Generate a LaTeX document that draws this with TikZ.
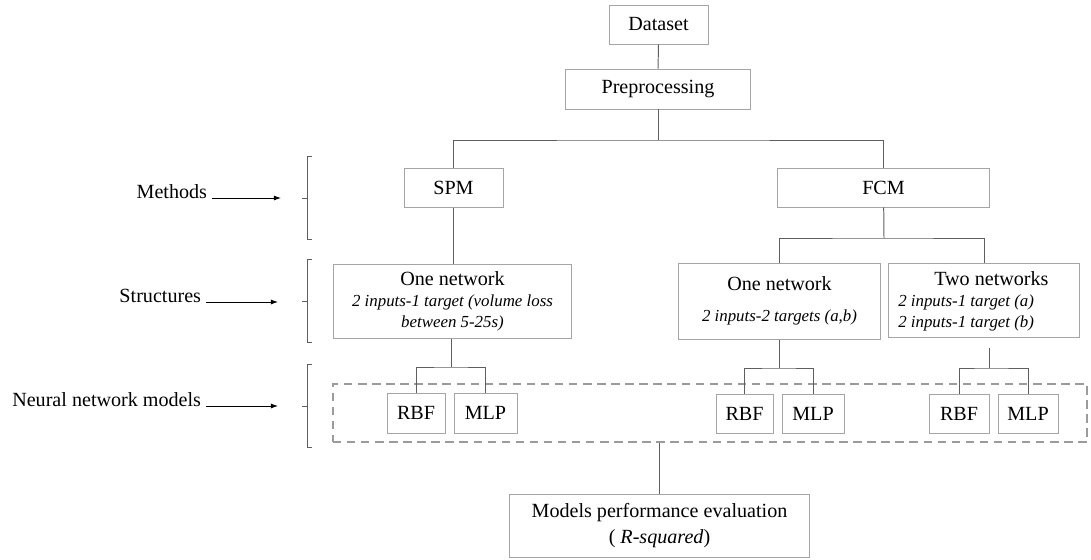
\documentclass[tikz,border=0pt]{standalone}
\usepackage{fontspec}
\setmainfont{Liberation Serif}
\usetikzlibrary{arrows.meta, positioning, calc}
\definecolor{boxgray}{RGB}{165,165,165}
\definecolor{linegray}{RGB}{95,95,95}
\definecolor{dashgray}{RGB}{155,155,155}
\newcommand{\itline}[1]{{\fontsize{12}{14}\selectfont\itshape #1}}

\begin{document}
\begin{tikzpicture}[x=0.025cm, y=-0.025cm,
  stage/.style={draw=boxgray, fill=white, line width=0.7pt, inner sep=2pt, align=center, font=\fontsize{14.3}{15}\selectfont},
  stagetext/.style={inner sep=0pt, font=\fontsize{14.3}{15}\selectfont},
  link/.style={draw=linegray, line width=0.7pt},
  tag/.style={font=\fontsize{14.3}{15}\selectfont, anchor=base east},
  pointer/.style={-{Latex[length=5pt, width=3.5pt]}, line width=0.6pt},
  bracket/.style={draw=linegray, line width=0.6pt}]
  \useasboundingbox (0,0) rectangle (1091,559);

  % Top
  \node[stage, minimum width=2.475cm, minimum height=0.975cm] (data) at (658.5,24.5) {Dataset};
  \node[stage, minimum width=4.6cm, minimum height=1cm] (prep) at (658,89) {Preprocessing};

  % Methods
  \node[stage, minimum width=2.475cm, minimum height=0.975cm] (spm) at (453.5,187.5) {SPM};
  \node[stage, minimum width=5.275cm, minimum height=0.975cm] (fcm) at (883.5,187.5) {FCM};

  % Structures
  \node[stage, minimum width=5.925cm, minimum height=1.85cm] (one1) at (452.5,301) {One network\\ \itline{2 inputs-1 target (volume loss}\\ \itline{between 5-25s)}};
  \node[stage, minimum width=5.025cm, minimum height=1.9cm] (one2) at (779.5,301) {One network\\[7pt] \itline{2 inputs-2 targets (a,b)}};
  \node[stage, minimum width=4.75cm, minimum height=1.85cm] (two) at (984,300) {};
  \node[stagetext, align=left, anchor=west] (twotxt) at (898,301) {\hspace*{0.9cm}Two networks\\ \itline{2 inputs-1 target (a)}\\ \itline{2 inputs-1 target (b)}};

  % Models
  \node[draw=dashgray, dash pattern=on 6pt off 4pt, line width=1pt, minimum width=18.85cm, minimum height=1.45cm] (nnbox) at (710,413) {};
  \node[stage, minimum width=1.45cm, minimum height=1cm] (rbf1) at (416,413) {RBF};
  \node[stage, minimum width=1.575cm, minimum height=1cm] (mlp1) at (485.5,413) {MLP};
  \node[stage, minimum width=1.425cm, minimum height=0.975cm] (rbf2) at (744.5,413.5) {RBF};
  \node[stage, minimum width=1.55cm, minimum height=0.975cm] (mlp2) at (813,413.5) {MLP};
  \node[stage, minimum width=1.5cm, minimum height=0.975cm] (rbf3) at (959,413.5) {RBF};
  \node[stage, minimum width=1.5cm, minimum height=0.975cm] (mlp3) at (1028,413.5) {MLP};

  \node[stage, minimum width=7.475cm, minimum height=1.575cm] (eval) at (659.5,525.5) {Models performance evaluation\\[3pt] ( \textit{R-squared})};

  % Connectors
  \coordinate (j1) at (658,140);
  \coordinate (j2) at (884,238);
  \coordinate (j3) at (451,367);
  \coordinate (j4) at (779,368);
  \coordinate (j5) at (989,368);
  \coordinate (t5) at (989,348);
  \draw[link] (data) -- (prep);
  \draw[link] (prep) -- (j1);
  \draw[link] (spm) |- (j1) -| (fcm);
  \draw[link] (spm) -- (spm |- one1.north);
  \draw[link] (fcm) -- (j2);
  \draw[link] (one2) |- (j2) -| (two);
  \draw[link] (one1.south -| j3) -- (j3);
  \draw[link] (rbf1) |- (j3) -| (mlp1);
  \draw[link] (one2.south -| j4) -- (j4);
  \draw[link] (rbf2) |- (j4) -| (mlp2);
  \draw[link] (t5) -- (j5);
  \draw[link] (rbf3) |- (j5) -| (mlp3);
  \draw[link] (nnbox.south -| eval.north) -- (eval);

  % Levels
  \node[tag] (lmeth) at (212,198) {Methods};
  \node[tag] (lstruct) at (206,302) {Structures};
  \node[tag] (lnn) at (206,406) {Neural network models};
  \coordinate (ameth) at (281,198);
  \coordinate (astruct) at (278,302);
  \coordinate (ann) at (278,406);
  \draw[pointer] (lmeth.base east) -- (ameth);
  \draw[pointer] (lstruct.base east) -- (astruct);
  \draw[pointer] (lnn.base east) -- (ann);

  \foreach \top/\mid/\bot in {156/198/239, 259/301/342, 364/406/447}
    \draw[bracket] (312,\top) -- (307,\top) -- (307,\bot) -- (312,\bot) (302,\mid) -- (307,\mid);
\end{tikzpicture}
\end{document}
